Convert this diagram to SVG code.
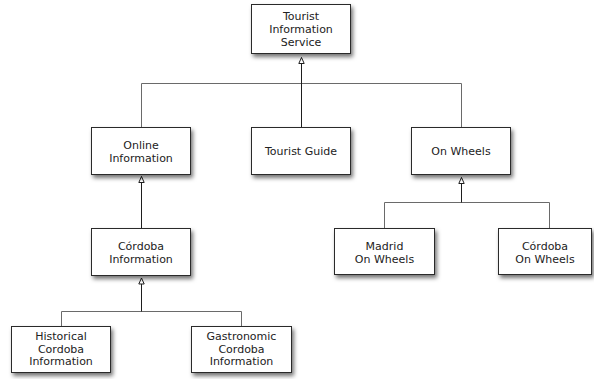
<svg xmlns="http://www.w3.org/2000/svg" width="594" height="379" viewBox="0 0 594 379">
  <style>
    .box { fill: #ffffff; stroke: #2b2b2b; stroke-width: 1; filter: url(#shadow); }
    .label { font-family: "DejaVu Sans", Verdana, sans-serif; font-size: 11px; fill: #222; text-anchor: middle; }
    .branch { fill: none; stroke: #6a6a6a; stroke-width: 1; }
    .trunk { fill: none; stroke: #1e1e1e; stroke-width: 1; marker-end: url(#inherit); }
  </style>
  <defs>
    <filter id="shadow" x="-20%" y="-20%" width="150%" height="160%">
      <feDropShadow dx="2" dy="3" stdDeviation="2" flood-color="#000" flood-opacity="0.55"/>
    </filter>
    <!-- hollow triangle for generalisation arrows -->
    <marker id="inherit" viewBox="0 0 7 7" refX="6.5" refY="3.5" markerWidth="7" markerHeight="7" markerUnits="userSpaceOnUse" orient="auto">
      <path d="M0.5,0.8 L6.5,3.5 L0.5,6.2 Z" fill="#fff" stroke="#1e1e1e" stroke-width="1"/>
    </marker>
  </defs>
  <rect width="594" height="379" fill="#ffffff"/>

  <g id="connectors">
    <!-- level 2 to Tourist Information Service -->
    <path class="branch" d="M141.5,127.5 V83.5 H461.5 V127.5"/>
    <path class="trunk" d="M301.5,127.5 V57.5"/>
    <!-- Córdoba Information to Online Information -->
    <path class="trunk" d="M141.5,228.5 V176.5"/>
    <!-- wheels branch -->
    <path class="branch" d="M384.5,228.5 V202.5 H549.5 V228.5"/>
    <path class="trunk" d="M461.5,202.5 V177.5"/>
    <!-- Córdoba sub-branch -->
    <path class="branch" d="M61.5,326.5 V311.5 H241.5 V326.5"/>
    <path class="trunk" d="M141.5,311.5 V278"/>
  </g>

  <g id="tourist-information-service">
    <rect class="box" x="251.5" y="4.5" width="99" height="49"/>
    <text class="label" x="301" y="20">Tourist</text>
    <text class="label" x="301" y="33">Information</text>
    <text class="label" x="301" y="46">Service</text>
  </g>

  <g id="online-information">
    <rect class="box" x="91.5" y="127.5" width="99" height="47"/>
    <text class="label" x="141" y="149">Online</text>
    <text class="label" x="141" y="162">Information</text>
  </g>

  <g id="tourist-guide">
    <rect class="box" x="251.5" y="127.5" width="99" height="47"/>
    <text class="label" x="301" y="155">Tourist Guide</text>
  </g>

  <g id="on-wheels">
    <rect class="box" x="411.5" y="127.5" width="99" height="47"/>
    <text class="label" x="461" y="155">On Wheels</text>
  </g>

  <g id="cordoba-information">
    <rect class="box" x="91.5" y="228.5" width="99" height="47"/>
    <text class="label" x="141" y="250">Córdoba</text>
    <text class="label" x="141" y="263">Information</text>
  </g>

  <g id="madrid-on-wheels">
    <rect class="box" x="334.5" y="228.5" width="100" height="46"/>
    <text class="label" x="384.5" y="250">Madrid</text>
    <text class="label" x="384.5" y="263">On Wheels</text>
  </g>

  <g id="cordoba-on-wheels">
    <rect class="box" x="498.5" y="228.5" width="93" height="46"/>
    <text class="label" x="545" y="250">Córdoba</text>
    <text class="label" x="545" y="263">On Wheels</text>
  </g>

  <g id="historical-cordoba-information">
    <rect class="box" x="11.5" y="326.5" width="99" height="46"/>
    <text class="label" x="61" y="340">Historical</text>
    <text class="label" x="61" y="352.5">Cordoba</text>
    <text class="label" x="61" y="365">Information</text>
  </g>

  <g id="gastronomic-cordoba-information">
    <rect class="box" x="191.5" y="326.5" width="100" height="46"/>
    <text class="label" x="241.5" y="340">Gastronomic</text>
    <text class="label" x="241.5" y="352.5">Cordoba</text>
    <text class="label" x="241.5" y="365">Information</text>
  </g>
</svg>
